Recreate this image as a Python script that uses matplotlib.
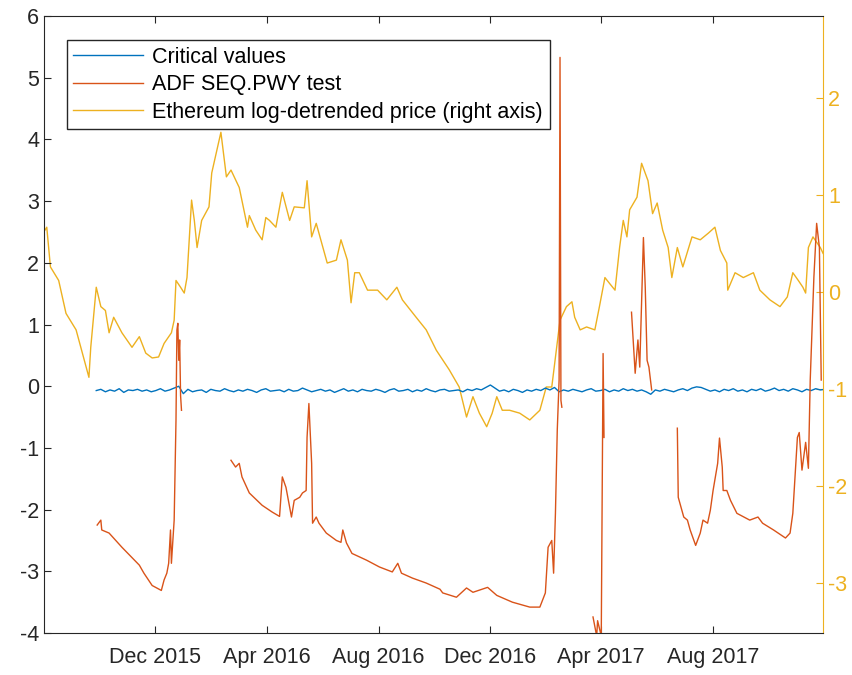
import numpy as np
import pandas as pd
import matplotlib
matplotlib.use("Agg")
from matplotlib import pyplot as plt
import matplotlib.dates as mdates

plt.rcParams['font.family'] = ['Liberation Sans', 'DejaVu Sans']
plt.rcParams['font.size'] = 15.5
plt.rcParams['axes.unicode_minus'] = False

start = pd.Timestamp("2015-08-01")

# Ethereum log-detrended price (right axis), days since 2015-08-01
eth_days = [2, 4, 8, 17, 25, 36, 42, 50, 52, 58, 63, 68, 72, 77, 86, 97, 105, 112, 119, 126,
            132, 140, 143, 145, 150, 154, 157, 162, 165, 168, 173, 181, 184, 194, 200, 205, 214, 223, 225, 232,
            239, 243, 247, 254, 261, 269, 274, 285, 288, 293, 298, 310, 320, 325, 332, 336, 340, 345, 354, 365,
            375, 386, 392, 407, 418, 429, 443, 454, 462, 469, 476, 484, 490, 495, 501, 509, 520, 531, 542, 549,
            555, 564, 571, 577, 580, 586, 593, 602, 607, 613, 618, 624, 629, 633, 637, 640, 648, 653, 660, 665,
            670, 676, 682, 686, 692, 698, 708, 717, 726, 733, 739, 746, 747, 755, 764, 775, 782, 793, 804, 812,
            818, 824, 829, 832, 835, 840, 848, 851]
eth_vals = [0.64, 0.67, 0.26, 0.12, -0.22, -0.39, -0.60, -0.88, -0.57, 0.05, -0.15, -0.19, -0.42, -0.26, -0.42, -0.57, -0.46, -0.63, -0.68, -0.67,
            -0.53, -0.42, -0.29, 0.12, 0.05, -0.01, 0.15, 0.95, 0.74, 0.46, 0.74, 0.88, 1.23, 1.65, 1.19, 1.26, 1.08, 0.67, 0.79, 0.64,
            0.54, 0.77, 0.74, 0.67, 1.03, 0.74, 0.88, 0.87, 1.15, 0.57, 0.71, 0.30, 0.33, 0.54, 0.33, -0.11, 0.20, 0.20, 0.02, 0.02,
            -0.08, 0.05, -0.08, -0.26, -0.39, -0.60, -0.80, -0.98, -1.29, -1.08, -1.25, -1.39, -1.25, -1.08, -1.22, -1.22, -1.25, -1.32, -1.22, -0.98,
            -0.98, -0.29, -0.15, -0.10, -0.26, -0.39, -0.36, -0.39, -0.15, 0.15, 0.09, 0.02, 0.46, 0.74, 0.57, 0.85, 0.98, 1.33, 1.15, 0.81,
            0.92, 0.64, 0.46, 0.15, 0.46, 0.26, 0.57, 0.54, 0.61, 0.67, 0.43, 0.30, 0.02, 0.20, 0.15, 0.20, 0.02, -0.08, -0.15, -0.05,
            0.20, 0.12, 0.05, -0.01, 0.46, 0.57, 0.46, 0.40]

# ADF SEQ.PWY test statistic (left axis), NaN = not computed
adf_days = [59, 63, 64, 72, 86, 105, 110, 119, 129, 132, 135, 137, 139, 140, 143, 145, 146, 147, 148, 149, 150, 151,
            170,
            205, 210, 214, 217, 225, 239, 250, 258, 261, 265, 271, 274, 280, 283, 287, 288, 290, 293, 294, 298, 301, 309,
            320, 325, 327, 331, 337, 353, 367, 381, 387, 391, 403, 418, 433, 436, 451, 462, 469, 485, 495, 512, 531, 542,
            548, 551, 555, 557, 559, 561, 563, 564, 565, 566,
            580,
            600, 604, 605, 609, 611, 612,
            630,
            642, 646, 649, 651, 655, 657, 659, 661, 664,
            680,
            692, 693, 699, 703, 706, 712, 717, 720, 725, 728, 731, 736, 738, 741, 742, 746, 750, 757, 771, 780,
            785, 797, 810, 815, 818, 823, 825, 828, 832, 835, 837, 841, 844, 847, 849]
adf_vals = [-2.25, -2.17, -2.33, -2.38, -2.61, -2.90, -3.03, -3.23, -3.31, -3.14, -3.03, -2.87, -2.33, -2.87, -2.17, -0.55, 0.91, 1.02, 0.42, 0.75, -0.15, -0.39,
            np.nan,
            -1.20, -1.31, -1.25, -1.47, -1.73, -1.93, -2.04, -2.11, -1.47, -1.64, -2.12, -1.85, -1.80, -1.73, -1.69, -0.83, -0.28, -1.25, -2.22, -2.12, -2.22, -2.38,
            -2.50, -2.53, -2.33, -2.54, -2.71, -2.82, -2.93, -3.01, -2.87, -3.03, -3.11, -3.19, -3.29, -3.35, -3.42, -3.27, -3.34, -3.26, -3.39, -3.50, -3.58, -3.58,
            -3.35, -2.61, -2.50, -3.03, -2.06, -0.71, 0.10, 5.33, -0.23, -0.34,
            np.nan,
            -3.74, -4.05, -3.80, -4.05, 0.53, -0.83,
            np.nan,
            1.20, 0.21, 0.75, 0.31, 2.41, 1.60, 0.42, 0.31, -0.06,
            np.nan,
            -0.68, -1.80, -2.12, -2.17, -2.33, -2.58, -2.38, -2.17, -2.22, -2.01, -1.69, -1.25, -0.84, -1.31, -1.69, -1.69, -1.85, -2.06, -2.17, -2.12,
            -2.22, -2.33, -2.46, -2.38, -2.06, -0.83, -0.75, -1.36, -0.91, -1.33, 0.10, 1.77, 2.64, 2.25, 0.10]

# critical values (left axis), every 5 days from day 58
crit_first_day = 58
crit_vals = [-0.07, -0.05, -0.09, -0.06, -0.08, -0.04, -0.10, -0.06, -0.07, -0.05, -0.08, -0.06, -0.09, -0.07, -0.04, -0.08, -0.06, -0.03, 0.00, -0.12,
             -0.05, -0.09, -0.07, -0.06, -0.10, -0.05, -0.07, -0.08, -0.04, -0.07, -0.09, -0.06, -0.08, -0.05, -0.07, -0.10, -0.06, -0.04, -0.08, -0.07,
             -0.06, -0.09, -0.05, -0.08, -0.07, -0.03, -0.06, -0.09, -0.07, -0.05, -0.08, -0.06, -0.10, -0.07, -0.04, -0.08, -0.06, -0.09, -0.05, -0.07,
             -0.08, -0.05, -0.07, -0.10, -0.06, -0.04, -0.08, -0.07, -0.05, -0.09, -0.06, -0.08, -0.04, -0.07, -0.09, -0.06, -0.05, -0.08, -0.07, -0.06,
             -0.09, -0.05, -0.07, -0.04, -0.06, -0.02, 0.02, -0.03, -0.08, -0.06, -0.09, -0.05, -0.07, -0.10, -0.06, -0.08, -0.05, -0.07, -0.03, -0.06,
             -0.02, -0.09, -0.06, -0.08, -0.05, -0.07, -0.09, -0.06, -0.04, -0.08, -0.07, -0.05, -0.09, -0.06, -0.08, -0.04, -0.07, -0.05, -0.08, -0.06,
             -0.09, -0.13, -0.06, -0.08, -0.05, -0.07, -0.09, -0.06, -0.04, -0.07, -0.03, -0.01, -0.02, -0.05, -0.08, -0.06, -0.09, -0.05, -0.07, -0.04,
             -0.08, -0.06, -0.09, -0.05, -0.07, -0.04, -0.08, -0.06, -0.03, -0.07, -0.05, -0.08, -0.04, -0.06, -0.09, -0.05, -0.07, -0.04, -0.06, -0.05]

labels = ['Critical values', 'ADF SEQ.PWY test', 'Ethereum log-detrended price (right axis)']

c_blue = '#0072BD'
c_orange = '#D95319'
c_yellow = '#EDB120'
c_axis = '#262626'


def to_dates(days):
    return start + pd.to_timedelta(np.asarray(days, dtype=float), unit='D')


crit_dates = pd.date_range(start + pd.Timedelta(days=crit_first_day), periods=len(crit_vals), freq='5D')

fig = plt.figure(figsize=(8.53, 6.75), dpi=100)
ax1 = fig.add_axes([0.0516, 0.0622, 0.9133, 0.914])
ax2 = ax1.twinx()

# price behind the test statistic lines
ax1.set_zorder(ax2.get_zorder() + 1)
ax1.patch.set_visible(False)

l3, = ax2.plot(to_dates(eth_days), eth_vals, color=c_yellow, lw=1.0)
l1, = ax1.plot(crit_dates, crit_vals, color=c_blue, lw=1.0)
l2, = ax1.plot(to_dates(adf_days), adf_vals, color=c_orange, lw=1.0)

ax1.set_xlim(pd.Timestamp("2015-08-02"), pd.Timestamp("2017-11-29"))
ax1.set_ylim(-4, 6)
ax1.set_yticks(range(-4, 7))
ax2.set_ylim(-3.52, 2.85)
ax2.set_yticks([-3, -2, -1, 0, 1, 2])

ax1.xaxis.set_major_locator(mdates.MonthLocator(bymonth=[4, 8, 12]))
ax1.xaxis.set_major_formatter(mdates.DateFormatter('%b %Y'))

ax1.tick_params(axis='x', direction='in', top=True, length=5, colors=c_axis, pad=10)
ax1.tick_params(axis='y', direction='in', left=True, right=False, length=5, colors=c_axis)
ax2.tick_params(axis='y', direction='in', length=5, colors=c_yellow)

for side in ['left', 'top', 'bottom']:
    ax1.spines[side].set_color(c_axis)
ax1.spines['right'].set_visible(False)
ax2.spines['left'].set_visible(False)
ax2.spines['top'].set_visible(False)
ax2.spines['bottom'].set_visible(False)
ax2.spines['right'].set_color(c_yellow)

leg = ax1.legend([l1, l2, l3], labels, loc='upper left', bbox_to_anchor=(0.0295, 0.961),
                 borderaxespad=0, fancybox=False, framealpha=1, edgecolor=c_axis,
                 handlelength=3.25, handletextpad=0.42, borderpad=0.3, labelspacing=0.3)
leg.get_frame().set_linewidth(1.0)

plt.savefig("out.png", dpi=100)
plt.close()
